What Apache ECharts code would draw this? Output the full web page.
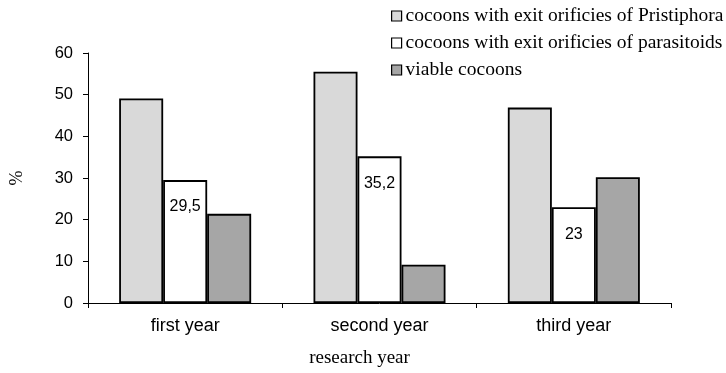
<!DOCTYPE html>
<html>
<head>
<meta charset="utf-8">
<script src="https://cdn.jsdelivr.net/npm/echarts@6/dist/echarts.min.js"></script>
<style>
  html, body { margin: 0; padding: 0; background: #fff; }
  #chart { width: 726px; height: 373px; }
</style>
</head>
<body>
<div id="chart"></div>
<script>
// Research years on the category axis
var categories = ['first year', 'second year', 'third year'];

// Share of cocoons (%) in each group
var seriesNames = [
  'cocoons with exit orificies of Pristiphora',
  'cocoons with exit orificies of parasitoids',
  'viable cocoons'
];
var pristiphora = [49.1, 55.5, 46.9];
var parasitoids = [29.5, 35.2, 23];
var viable = [21.4, 9.2, 30.2];

// Value-axis ticks
var yTicks = [0, 10, 20, 30, 40, 50, 60];

var chart = echarts.init(document.getElementById('chart'), null, { renderer: 'canvas' });

var sansFont = 'Liberation Sans, Arial, sans-serif';
var serifFont = 'Liberation Serif, Times New Roman, serif';

function barSeries(name, data, color, withLabel) {
  return {
    name: name,
    type: 'bar',
    data: data,
    barWidth: 44,
    barGap: '0%',
    itemStyle: { color: color, borderColor: '#000', borderWidth: 1.8 },
    label: withLabel ? {
      show: true,
      position: 'insideTop',
      distance: 19,
      color: '#000',
      fontFamily: sansFont,
      fontSize: 16,
      formatter: function (p) { return String(p.value).replace('.', ','); }
    } : { show: false },
    emphasis: { disabled: true }
  };
}

chart.setOption({
  animation: false,
  grid: { left: 82, right: 55, top: 53, bottom: 67, containLabel: false },
  legend: {
    orient: 'vertical',
    left: 386,
    top: 1,
    itemWidth: 10,
    itemHeight: 10,
    itemGap: 7,
    icon: 'rect',
    textStyle: { fontFamily: serifFont, fontSize: 19.5, color: '#000', padding: [0, 0, 0, -1] },
    data: seriesNames.map(function (n) { return { name: n, itemStyle: { borderColor: '#000', borderWidth: 1.2 } }; })
  },
  xAxis: {
    type: 'category',
    data: categories,
    name: 'research year',
    nameLocation: 'middle',
    nameGap: 46,
    nameTextStyle: { fontFamily: serifFont, fontSize: 19, color: '#000', padding: [0, 40, 0, 0] },
    axisLine: { lineStyle: { color: '#000', width: 1 } },
    axisTick: { show: true, length: 5, lineStyle: { color: '#000' } },
    axisLabel: { fontFamily: sansFont, fontSize: 18, color: '#000', margin: 14 }
  },
  yAxis: {
    type: 'value',
    min: yTicks[0],
    max: yTicks[yTicks.length - 1],
    interval: 10,
    name: '%',
    nameLocation: 'middle',
    nameGap: 62,
    nameRotate: 90,
    nameTextStyle: { fontFamily: serifFont, fontSize: 18, color: '#000' },
    axisLine: { show: true, lineStyle: { color: '#000', width: 1 } },
    axisTick: { show: true, length: 5, lineStyle: { color: '#000' } },
    axisLabel: { fontFamily: sansFont, fontSize: 16.5, color: '#000', margin: 15 },
    splitLine: { show: false }
  },
  series: [
    barSeries(seriesNames[0], pristiphora, '#d9d9d9', false),
    barSeries(seriesNames[1], parasitoids, '#ffffff', true),
    barSeries(seriesNames[2], viable, '#a6a6a6', false)
  ]
});
</script>
</body>
</html>
